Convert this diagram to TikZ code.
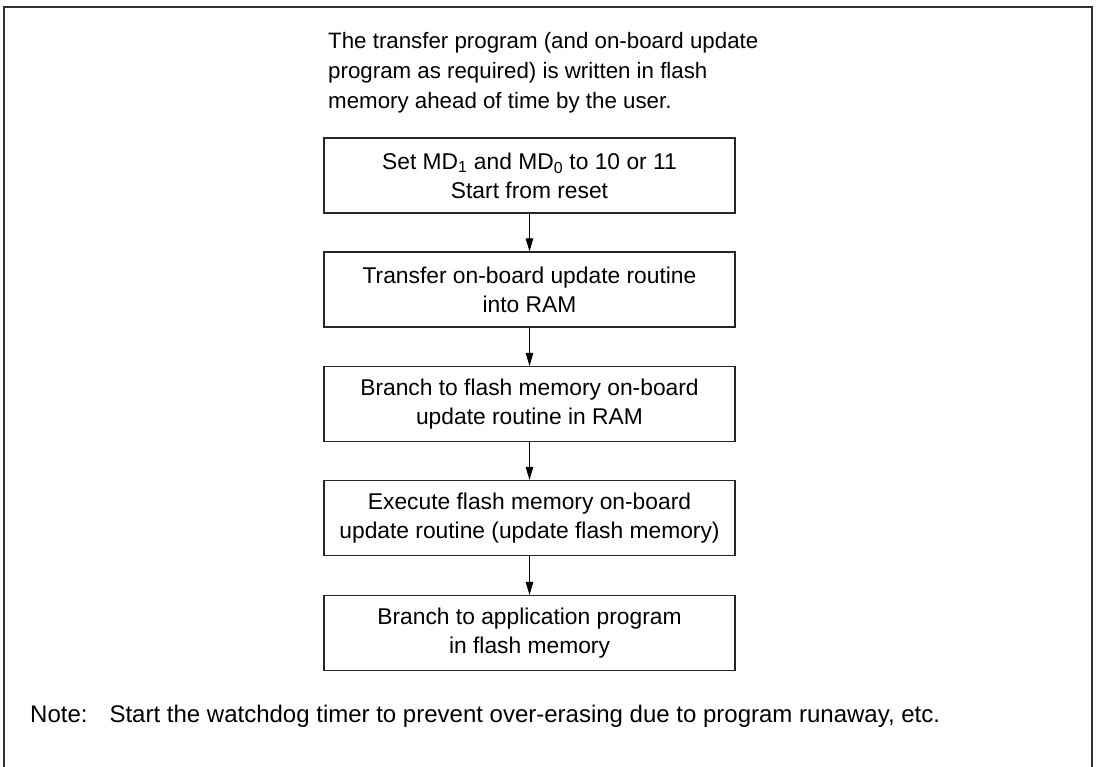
\documentclass[tikz,border=0pt]{standalone}
\usepackage{fontspec}
\setmainfont{Liberation Sans}
\usetikzlibrary{arrows.meta}
\tikzset{
  stepbox/.style={draw=black!85, line width=1.2pt, minimum width=411pt, minimum height=75pt, align=center, inner sep=0pt, font=\fontsize{22.8}{29}\selectfont},
  flow/.style={draw=black, line width=1pt, -{Triangle[length=13pt,width=7.5pt]}},
  frameline/.style={draw=black!80, line width=1.5pt}
}
\begin{document}
\begin{tikzpicture}[x=1pt,y=-1pt]
\useasboundingbox (0,0) rectangle (1100,766);
\draw[frameline] (4,767) -- (4,7) -- (1092,7) -- (1092,767);
\node[anchor=north west, align=left, inner sep=0pt, font=\fontsize{22.3}{30}\selectfont] (intro) at (328,32.5)
  {The transfer program (and on-board update\\program as required) is written in flash\\memory ahead of time by the user.};
\node[stepbox] (s1) at (529.5,175.5) {Set MD\textsubscript{1} and MD\textsubscript{0} to 10 or 11\\Start from reset};
\node[stepbox] (s2) at (529.5,289.5) {Transfer on-board update routine\\into RAM};
\node[stepbox] (s3) at (529.5,404) {Branch to flash memory on-board\\update routine in RAM};
\node[stepbox] (s4) at (529.5,518) {Execute flash memory on-board\\update routine (update flash memory)};
\node[stepbox] (s5) at (529.5,633) {Branch to application program\\in flash memory};
\draw[flow] (s1) -- (s2);
\draw[flow] (s2) -- (s3);
\draw[flow] (s3) -- (s4);
\draw[flow] (s4) -- (s5);
\node[anchor=base west, inner sep=0pt, font=\fontsize{24}{29}\selectfont] (note) at (30,722)
  {Note:\hspace{22pt}Start the watchdog timer to prevent over-erasing due to program runaway, etc.};
\end{tikzpicture}
\end{document}
